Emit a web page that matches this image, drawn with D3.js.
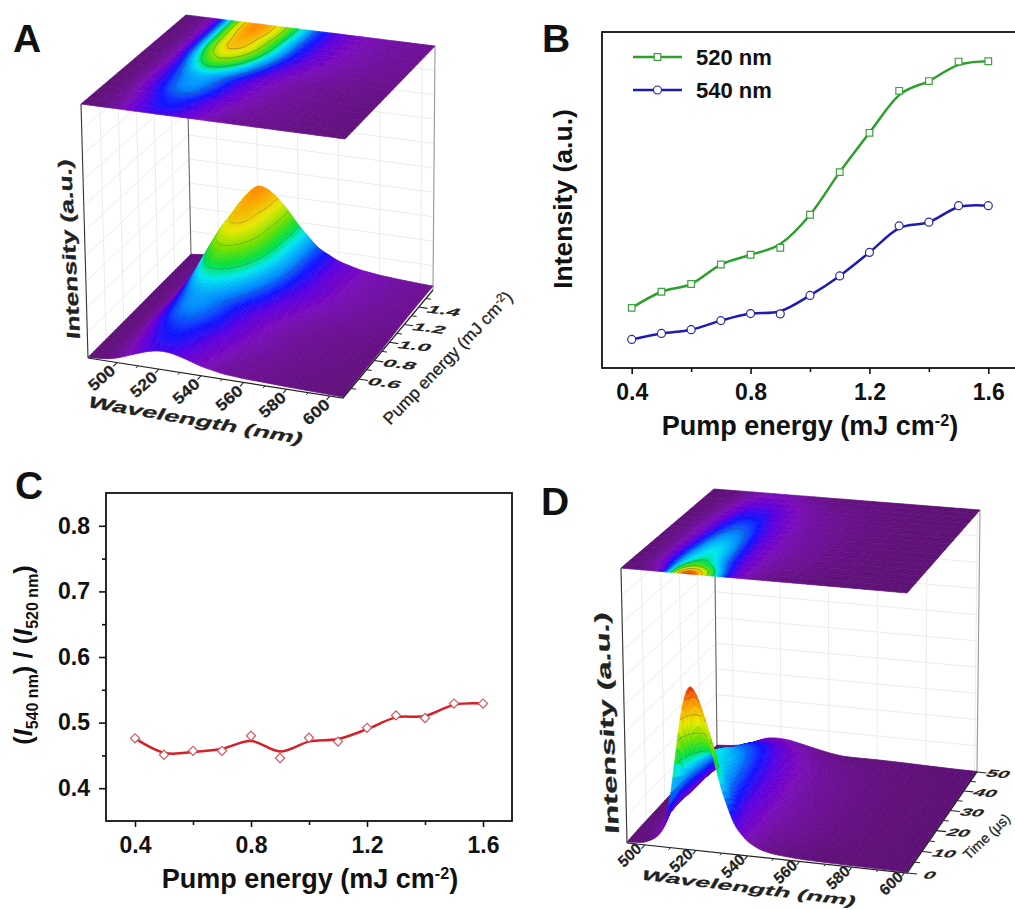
<!DOCTYPE html>
<html lang="en">

<head>
    <meta charset="UTF-8">
    <style type="text/css">
        body { margin: 0; background: #fff; }
        svg { display: block; font-family: "Liberation Sans", Arial, sans-serif; }
        .axis path { display: none; }
        .axis line { stroke: #111; stroke-width: 1.6; }
        .axis text { font-size: 23px; font-weight: bold; fill: #111; font-family: "Liberation Sans", Arial, sans-serif; }
        .frame { fill: none; stroke: #111; stroke-width: 1.8; }
        .title { font-weight: bold; fill: #111; }
        .wall { stroke: #ececec; stroke-width: 1; fill: none; }
    </style>
</head>

<body>
    <script src="https://cdn.jsdelivr.net/npm/d3@7"></script>
    <script type="text/javascript">

        // panel B, markers and the smoothed line through them
        var pump = [0.4, 0.5, 0.6, 0.7, 0.8, 0.9, 1.0, 1.1, 1.2, 1.3, 1.4, 1.5, 1.6];
        var int520 = [17.9, 22.7, 25.0, 30.8, 33.7, 35.8, 45.6, 58.3, 70.0, 82.5, 85.4, 91.2, 91.3];
        var int540 = [8.5, 10.3, 11.4, 14.1, 16.2, 16.1, 21.6, 27.4, 34.4, 42.3, 43.4, 48.3, 48.3];
        var smooth520 = [17.9, 22.7, 25.0, 30.8, 33.7, 36.9, 45.6, 58.3, 70.0, 81.2, 85.4, 90.2, 91.3];
        var smooth540 = [8.5, 10.3, 11.4, 14.1, 16.2, 16.9, 21.6, 27.4, 34.4, 41.6, 43.4, 47.9, 48.3];

        // panel C
        var ratioPoints = [0.476, 0.451, 0.457, 0.457, 0.480, 0.446, 0.477, 0.471, 0.492, 0.511, 0.507, 0.529, 0.529];
        var ratioSmooth = [0.476, 0.454, 0.455, 0.460, 0.472, 0.456, 0.471, 0.475, 0.490, 0.508, 0.510, 0.527, 0.529];

        // panel A surface, one row per pump energy, one column per wavelength
        var waveA = [486, 495, 500, 505, 510, 515, 520, 525, 530, 535, 540, 550, 560, 570, 580, 590, 600, 606];
        var surfaceA = [
            [.2, .8, 1.7, 3.2, 4.7, 6.1, 6.9, 6.9, 6, 4.8, 3.5, 2, 1.4, 1.2, .9, .7, .5, .4],
            [.2, .9, 2, 3.9, 6, 7.8, 8.8, 8.7, 7.6, 6.1, 4.6, 2.6, 1.8, 1.4, 1, .8, .6, .5],
            [.2, 1, 2.2, 4.4, 6.8, 8.7, 9.7, 9.6, 8.4, 6.9, 5.2, 3, 2, 1.5, 1.1, .9, .7, .6],
            [.2, 1, 2.6, 5.5, 8.3, 10.7, 11.9, 11.7, 10.3, 8.5, 6.5, 3.7, 2.4, 1.7, 1.3, 1, .8, .7],
            [.2, 1, 2.8, 6.1, 9.2, 11.7, 13, 12.7, 11.2, 9.3, 7.2, 4.1, 2.6, 1.9, 1.4, 1.1, .9, .7],
            [.2, 1.1, 3, 6.6, 10, 12.6, 13.9, 13.5, 12, 10, 7.8, 4.4, 2.8, 2, 1.5, 1.2, .9, .8],
            [.2, 1.1, 2.6, 6.8, 11.6, 16, 18, 17.6, 16, 13.5, 10.5, 5.8, 3.5, 2.4, 1.8, 1.4, 1.1, 1],
            [.3, 1.1, 2.8, 8.2, 14.7, 20.3, 23, 22.4, 20.3, 17.2, 13.3, 7.4, 4.4, 3, 2.2, 1.7, 1.4, 1.2],
            [.3, 1.1, 3, 9.5, 17.6, 24.4, 27.5, 26.9, 24.4, 20.6, 16, 8.8, 5.3, 3.4, 2.5, 2, 1.6, 1.4],
            [.3, 1.1, 3.3, 10.2, 19.5, 27, 30.5, 29.8, 27, 22.8, 17.7, 9.8, 5.9, 3.7, 2.8, 2.1, 1.8, 1.5],
            [.3, 1.1, 3.3, 10.5, 20, 27.6, 31.2, 30.4, 27.6, 23.3, 18, 10, 6, 3.8, 2.9, 2.2, 1.8, 1.6],
            [.3, 1.1, 3.5, 11, 21, 29, 32.8, 32, 29, 24.5, 19, 10.5, 6.3, 4, 3, 2.3, 1.9, 1.6],
            [.3, 1.1, 3.5, 11, 21, 29.2, 33.2, 32.2, 29, 24.5, 19, 10.4, 6.2, 4, 2.9, 2.3, 1.8, 1.6]
        ];

        // panel D surface, one row per delay time
        var waveD = [493, 500, 505, 508, 510, 513, 515, 518, 520, 523, 525, 530, 535, 540, 545, 550, 560, 570, 580, 590, 601];
        var timeD = [0, 2.5, 5, 7.5, 10, 15, 20, 25, 30, 35, 40, 45, 50];
        var surfaceD = [
            [.3, .8, 3, 7, 15, 37, 52, 63, 62, 53, 45, 24, 10.5, 5, 2.5, 1.5, .8, .6, .5, .4, .3],
            [.4, 1, 4, 9, 16, 33, 44, 52, 51, 45, 39, 22, 10, 5.5, 3, 2, 1, .7, .5, .4, .3],
            [.5, 1.5, 6, 12, 18, 28, 33, 36, 36, 32, 28, 18, 9.5, 6, 3.5, 2.5, 1.4, .9, .6, .4, .3],
            [.5, 2, 7, 13, 18, 25, 28, 31, 31, 28, 25, 16, 9.5, 6, 4, 3, 1.7, 1, .7, .4, .3],
            [.5, 2, 7, 13, 18, 24, 26, 28, 28, 26, 23, 15, 9, 6, 4.2, 3.2, 1.9, 1.1, .7, .4, .3],
            [.5, 2, 7, 12, 16, 21, 24, 26, 26, 24, 21, 14, 9, 6, 4.4, 3.4, 2, 1.2, .7, .4, .3],
            [.5, 2, 6, 10, 14, 19, 21, 23, 23, 21, 19, 13, 8.5, 6, 4.4, 3.4, 2, 1.2, .7, .4, .3],
            [.5, 2, 6, 9, 12, 16, 18, 19.5, 19.5, 18, 17, 12, 8, 5.5, 4.2, 3.2, 2, 1.2, .7, .4, .3],
            [.5, 2, 5, 8, 11, 14, 16, 17, 17, 16, 15, 10.5, 7.5, 5.2, 4, 3, 1.9, 1.1, .7, .4, .3],
            [.5, 1.5, 4.5, 7, 9, 12, 13.5, 14, 14, 13.5, 12.5, 9, 6.5, 4.8, 3.6, 2.8, 1.8, 1.1, .6, .4, .3],
            [.4, 1.2, 3.5, 5.5, 7.5, 9.5, 10.5, 11, 11, 10.5, 10, 7.5, 5.5, 4, 3, 2.4, 1.6, 1, .6, .4, .3],
            [.4, 1, 2.5, 4, 5.5, 7, 7.8, 8, 8, 7.5, 7, 5.5, 4, 3, 2.2, 1.8, 1.3, .9, .5, .3, .3],
            [.3, .8, 1.6, 2.6, 3.4, 4.4, 4.9, 5, 5, 4.8, 4.5, 3.5, 2.5, 1.5, .8, .7, .8, .7, .5, .3, .2]
        ];

        var wavelengthTicks = [500, 520, 540, 560, 580, 600];
        var wavelengthMinor = [510, 530, 550, 570, 590];
        var pumpTicks3d = [0.6, 0.8, 1.0, 1.2, 1.4];
        var pumpMinor3d = [0.5, 0.7, 0.9, 1.1, 1.3, 1.5];
        var timeTicks = [0, 10, 20, 30, 40, 50];
        var timeMinor = [5, 15, 25, 35, 45];
        var wallLevels = [.1, .2, .3, .4, .5, .6, .7, .8, .9];

        // colour map, as a fraction of the top of the z range
        var colorStops = [0, .04, .1, .17, .24, .33, .44, .52, .62, .74, .88, 1];
        var colorValues = ["#5a1070", "#6a0f90", "#7a08bc", "#5a00e0", "#1010ff", "#0088ff", "#00e8f0", "#00e040", "#70e000", "#e8e800", "#ff9000", "#e01000"];
        var contourFractions = [.3, .5, .65, .78, .9];

        var svg = d3.select("body").append("svg").attr("width", 1015).attr("height", 910);
        var defs = svg.append("defs");
        defs.append("filter").attr("id", "soft").attr("x", "-5%").attr("y", "-5%").attr("width", "110%").attr("height", "110%")
            .append("feGaussianBlur").attr("stdDeviation", 0.45);

        var rainbow = d3.scaleLinear().domain(colorStops).range(colorValues).clamp(true);

        // maps the unit square on to a quad: 00, 10, 11, 01
        function quadMap(q) {
            var x0 = q[0][0], y0 = q[0][1], x1 = q[1][0], y1 = q[1][1], x2 = q[2][0], y2 = q[2][1], x3 = q[3][0], y3 = q[3][1];
            var dx1 = x1 - x2, dx2 = x3 - x2, sx = x0 - x1 + x2 - x3;
            var dy1 = y1 - y2, dy2 = y3 - y2, sy = y0 - y1 + y2 - y3;
            var den = dx1 * dy2 - dx2 * dy1;
            var g = (sx * dy2 - dx2 * sy) / den, h = (dx1 * sy - sx * dy1) / den;
            var a = x1 - x0 + g * x1, b = x3 - x0 + h * x3, d = y1 - y0 + g * y1, e = y3 - y0 + h * y3;
            return function (u, v) {
                var w = g * u + h * v + 1;
                return [(a * u + b * v + x0) / w, (d * u + e * v + y0) / w];
            };
        }

        function skewText(g, text, x, y, m, size) {
            return g.append("text")
                .attr("transform", "matrix(" + m.join(",") + "," + x + "," + y + ")")
                .attr("text-anchor", "middle")
                .attr("dominant-baseline", "central")
                .attr("font-size", size)
                .attr("font-weight", "bold")
                .attr("fill", "#222")
                .attr("stroke", "#222")
                .attr("stroke-width", .2)
                .text(text);
        }

        function drawSurface(opt) {
            var g = svg.append("g");
            var floorMap = quadMap(opt.floor), topMap = quadMap(opt.top);
            var u = d3.scaleLinear().domain(opt.waveDomain).range([0, 1]);
            var v = d3.scaleLinear().domain(opt.rowDomain).range([0, 1]);
            var z = d3.scaleLinear().domain([0, opt.zTop]).range([0, 1]);
            var line = d3.line();

            function project(a, b, c) {
                var p = floorMap(a, b), t = topMap(a, b);
                return [p[0] + (t[0] - p[0]) * c, p[1] + (t[1] - p[1]) * c];
            }

            // walls
            var walls = g.append("g").attr("class", "wall");
            function wallLine(a0, b0, c0, a1, b1, c1) {
                walls.append("path").attr("d", line([project(a0, b0, c0), project(a1, b1, c1)]));
            }
            wallLevels.forEach(function (c) {
                wallLine(0, 0, c, 0, 1, c);
                wallLine(0, 1, c, 1, 1, c);
            });
            opt.rowTicks.forEach(function (r) { wallLine(0, v(r), 0, 0, v(r), 1); });
            wavelengthTicks.forEach(function (w) { wallLine(u(w), 1, 0, u(w), 1, 1); });

            [[0, 0, "#333"], [0, 1, "#666"], [1, 1, "#999"]].forEach(function (c) {
                g.append("path").attr("d", line([project(c[0], c[1], 0), project(c[0], c[1], 1)]))
                    .attr("stroke", c[2]).attr("stroke-width", 1.1).attr("fill", "none");
            });

            // resample the table on a fine grid for drawing
            var nx = 130, ny = 64;
            var rowFns = opt.table.map(function (row) { return d3.scaleLinear().domain(opt.wave).range(row); });
            var fine = new Float64Array(nx * ny);
            d3.range(nx).forEach(function (i) {
                var w = u.invert(i / (nx - 1));
                var col = rowFns.map(function (f) { return f(w); });
                var byRow = d3.scaleLinear().domain(opt.rows).range(col);
                d3.range(ny).forEach(function (j) {
                    fine[j * nx + i] = byRow(v.invert(j / (ny - 1)));
                });
            });
            if (d3.blur2) d3.blur2({ data: fine, width: nx, height: ny }, 1);

            var items = [], topCells = [], lidMesh = [];
            d3.range(ny - 1).forEach(function (j) {
                d3.range(nx - 1).forEach(function (i) {
                    var a0 = i / (nx - 1), a1 = (i + 1) / (nx - 1), b0 = j / (ny - 1), b1 = (j + 1) / (ny - 1);
                    var z00 = fine[j * nx + i], z10 = fine[j * nx + i + 1], z11 = fine[(j + 1) * nx + i + 1], z01 = fine[(j + 1) * nx + i];
                    var c = rainbow((z00 + z10 + z11 + z01) / 4 / opt.colorTop);
                    var order = (ny - 1 - j) * nx + i;
                    items.push({
                        order: order,
                        d: line([project(a0, b0, z(z00)), project(a1, b0, z(z10)), project(a1, b1, z(z11)), project(a0, b1, z(z01))]) + "Z",
                        fill: c, stroke: c, width: 0.7, opacity: 1
                    });
                    topCells.push({
                        d: line([project(a0, b0, 1), project(a1, b0, 1), project(a1, b1, 1), project(a0, b1, 1)]) + "Z",
                        fill: c
                    });
                    // faint mesh of the surface
                    if (i % 4 == 0) {
                        items.push({ order: order + .2, d: line([project(a0, b0, z(z00)), project(a0, b1, z(z01))]), fill: "none", stroke: "#fff", width: .5, opacity: .07 });
                        lidMesh.push(line([project(a0, b0, 1), project(a0, b1, 1)]));
                    }
                    if (j % 4 == 0) {
                        items.push({ order: order + .2, d: line([project(a0, b0, z(z00)), project(a1, b0, z(z10))]), fill: "none", stroke: "#fff", width: .5, opacity: .07 });
                        lidMesh.push(line([project(a0, b0, 1), project(a1, b0, 1)]));
                    }
                });
            });

            // contour lines
            var levels = contourFractions.map(function (f) { return f * opt.colorTop; });
            var inner = function (p) { return p[0] >= .5 && p[0] <= nx - .5 && p[1] >= .5 && p[1] <= ny - .5; };
            var topSegs = [];
            d3.contours().size([nx, ny]).thresholds(levels)(fine).forEach(function (shape) {
                var level = z(shape.value);
                shape.coordinates.forEach(function (poly) {
                    poly.forEach(function (ring) {
                        d3.pairs(ring).forEach(function (pair) {
                            if (!inner(pair[0]) || !inner(pair[1])) return;
                            var a = pair.map(function (p) { return [(p[0] - .5) / (nx - 1), (p[1] - .5) / (ny - 1)]; });
                            var i = Math.floor((pair[0][0] + pair[1][0]) / 2 - .5), j = Math.floor((pair[0][1] + pair[1][1]) / 2 - .5);
                            items.push({
                                order: (ny - 1 - j) * nx + i + .5,
                                d: line([project(a[0][0], a[0][1], level), project(a[1][0], a[1][1], level)]),
                                fill: "none", stroke: "#3a4a3a", width: 0.7, opacity: .6
                            });
                            topSegs.push(line([project(a[0][0], a[0][1], 1), project(a[1][0], a[1][1], 1)]));
                        });
                    });
                });
            });
            items.sort(function (p, q) { return p.order - q.order; });

            // surface
            g.append("g").attr("filter", "url(#soft)").selectAll("path").data(items).join("path")
                .attr("d", function (d) { return d.d; })
                .attr("fill", function (d) { return d.fill; })
                .attr("stroke", function (d) { return d.stroke; })
                .attr("stroke-opacity", function (d) { return d.opacity; })
                .attr("stroke-width", function (d) { return d.width; });

            // axis lines and ticks
            var axisG = g.append("g").attr("stroke", "#222").attr("fill", "none");
            axisG.append("path").attr("stroke-width", 1.2).attr("d", line([project(0, 0, 0), project(1, 0, 0), project(1, 1, 0)]));
            wavelengthTicks.forEach(function (w) { axisG.append("path").attr("stroke-width", 1.1).attr("d", line([project(u(w), 0, 0), project(u(w), -.035, 0)])); });
            wavelengthMinor.forEach(function (w) { axisG.append("path").attr("stroke-width", 1).attr("d", line([project(u(w), 0, 0), project(u(w), -.02, 0)])); });
            opt.rowTicks.forEach(function (r) { axisG.append("path").attr("stroke-width", 1.1).attr("d", line([project(1, v(r), 0), project(1.035, v(r), 0)])); });
            opt.rowMinor.forEach(function (r) { axisG.append("path").attr("stroke-width", 1).attr("d", line([project(1, v(r), 0), project(1.02, v(r), 0)])); });

            // map on the lid
            var lid = g.append("g").attr("filter", "url(#soft)");
            lid.selectAll("path").data(topCells).join("path")
                .attr("d", function (d) { return d.d; })
                .attr("fill", function (d) { return d.fill; })
                .attr("stroke", function (d) { return d.fill; })
                .attr("stroke-width", 0.7);
            lid.append("path").attr("d", lidMesh.join("")).attr("fill", "none").attr("stroke", "#fff").attr("stroke-opacity", .06).attr("stroke-width", .5);
            lid.append("path").attr("d", topSegs.join("")).attr("fill", "none").attr("stroke", "#3a4a3a").attr("stroke-opacity", .6).attr("stroke-width", 0.7);

            // tick labels
            wavelengthTicks.forEach(function (w) {
                var p = project(u(w) - opt.waveLabelShift, -opt.waveLabelOffset, 0);
                skewText(g, w, p[0], p[1], opt.waveLabelMatrix, 15);
            });
            opt.rowTicks.forEach(function (r) {
                var p = project(1 + opt.rowLabelOffset, v(r), 0);
                skewText(g, opt.rowFormat(r), p[0], p[1], opt.rowLabelMatrix, 14);
            });

            // titles
            skewText(g, "Wavelength (nm)", opt.waveTitle[0], opt.waveTitle[1], opt.waveTitle[2], 15);
            skewText(g, "Intensity (a.u.)", opt.zTitle[0], opt.zTitle[1], opt.zTitle[2], 15);
            var rt = g.append("text").attr("transform", opt.rowTitle.transform)
                .attr("text-anchor", "middle").attr("fill", "#222")
                .attr("stroke", "#222").attr("stroke-width", .3);
            opt.rowTitle.parts.forEach(function (t) {
                rt.append("tspan").attr("dy", t[1]).attr("font-size", t[2]).text(t[0]);
            });
        }

        drawSurface({
            floor: [[88, 358], [343, 398], [433, 290], [191, 255]],
            top: [[81, 104], [345, 139], [435, 46], [186, 15]],
            wave: waveA, waveDomain: [486, 606], table: surfaceA, rows: pump, rowDomain: [0.4, 1.6],
            rowTicks: pumpTicks3d, rowMinor: pumpMinor3d, rowFormat: d3.format(".1f"),
            zTop: 100, colorTop: 37,
            waveLabelOffset: .14, waveLabelShift: 0.0, waveLabelMatrix: [.9, -.8, .7, .8],
            rowLabelOffset: .1, rowLabelMatrix: [1.65, .2, -.55, .72],
            waveTitle: [196, 420, [1.78, .31, -.55, 1.0]],
            zTitle: [69, 249, [-.09, -1.77, 1.25, .1]],
            rowTitle: { transform: "translate(452,362) rotate(-46)", parts: [["Pump energy (mJ cm", 0, 17], ["-2", -6, 11.5], [")", 6, 17]] }
        });

        drawSurface({
            floor: [[627, 843], [907, 873], [977, 772], [717, 746]],
            top: [[621, 568], [907, 593], [980, 510], [714, 489]],
            wave: waveD, waveDomain: [493, 601], table: surfaceD, rows: timeD, rowDomain: [0, 50],
            rowTicks: timeTicks, rowMinor: timeMinor, rowFormat: d3.format("d"),
            zTop: 100, colorTop: 60,
            waveLabelOffset: .1, waveLabelShift: .02, waveLabelMatrix: [.75, -.74, .68, .78],
            rowLabelOffset: .08, rowLabelMatrix: [1.45, .1, -.55, .72],
            waveTitle: [749, 888, [1.78, .22, -.5, .88]],
            zTitle: [607, 723, [-.107, -2.18, 1.3, .1]],
            rowTitle: { transform: "translate(990,840) rotate(-44)", parts: [["Time (\u03bcs)", 0, 14]] }
        });

        // 2D panels
        function panel(box, yDomain) {
            var g = svg.append("g");
            var x = d3.scaleLinear().domain([0.3, 1.7]).range([box.left, box.right]);
            var y = d3.scaleLinear().domain(yDomain).range([box.bottom, box.top]);
            g.append("rect").attr("class", "frame")
                .attr("x", box.left).attr("y", box.top)
                .attr("width", box.right - box.left).attr("height", box.bottom - box.top);
            g.append("g").attr("class", "axis").attr("transform", "translate(0," + box.bottom + ")")
                .call(d3.axisBottom(x).tickValues([0.4, 0.8, 1.2, 1.6]).tickFormat(d3.format(".1f")).tickSize(6).tickPadding(10));
            g.append("g").attr("class", "axis").attr("transform", "translate(0," + box.bottom + ")")
                .call(d3.axisBottom(x).tickValues([0.6, 1.0, 1.4]).tickFormat("").tickSize(4));
            return { g: g, x: x, y: y };
        }

        function pumpTitle(g, cx, base, size) {
            var t = g.append("text").attr("class", "title").attr("x", cx).attr("y", base)
                .attr("text-anchor", "middle").attr("font-size", size);
            t.append("tspan").text("Pump energy (mJ cm");
            t.append("tspan").attr("dy", -9).attr("font-size", size * .6).text("-2");
            t.append("tspan").attr("dy", 9).text(")");
        }

        // B
        var b = panel({ left: 602, right: 1018, top: 32, bottom: 368 }, [0, 100]);
        var smooth = d3.line().curve(d3.curveCatmullRom.alpha(0));
        function seriesLine(pa, values, colour) {
            pa.g.append("path")
                .attr("d", smooth(pump.map(function (p, i) { return [pa.x(p), pa.y(values[i])]; })))
                .attr("fill", "none").attr("stroke", colour).attr("stroke-width", 2.5);
        }
        seriesLine(b, smooth520, "#2ca02c");
        seriesLine(b, smooth540, "#1c1cb4");
        var square = d3.symbol().type(d3.symbolSquare).size(44);
        var circle = d3.symbol().type(d3.symbolCircle).size(50);
        var diamond = d3.symbol().type(d3.symbolSquare).size(42);
        function markers(pa, values, sym, colour, turn) {
            pa.g.selectAll(null).data(values).join("path")
                .attr("d", sym)
                .attr("transform", function (d, i) { return "translate(" + pa.x(pump[i]) + "," + pa.y(d) + ") rotate(" + turn + ")"; })
                .attr("fill", "#fff").attr("stroke", colour).attr("stroke-width", 1.2);
        }
        markers(b, int520, square, "#3da43d", 0);
        markers(b, int540, circle, "#2a2aa8", 0);

        var legendRows = [["520 nm", "#2ca02c", square, "#3da43d", 57], ["540 nm", "#1c1cb4", circle, "#2a2aa8", 90]];
        legendRows.forEach(function (r) {
            b.g.append("line").attr("x1", 633).attr("x2", 682).attr("y1", r[4]).attr("y2", r[4])
                .attr("stroke", r[1]).attr("stroke-width", 2.5);
            b.g.append("path").attr("d", r[2]).attr("transform", "translate(657.5," + r[4] + ")")
                .attr("fill", "#fff").attr("stroke", r[3]).attr("stroke-width", 1.2);
            b.g.append("text").attr("class", "title").attr("x", 696).attr("y", r[4] + 7.5).attr("font-size", 22).text(r[0]);
        });
        b.g.append("text").attr("class", "title").attr("transform", "translate(572,199) rotate(-90)")
            .attr("text-anchor", "middle").attr("font-size", 26.5).text("Intensity (a.u.)");
        pumpTitle(b.g, 810, 435, 27);

        // C
        var c = panel({ left: 106, right: 512, top: 493, bottom: 821 }, [0.35, 0.85]);
        c.g.append("g").attr("class", "axis").attr("transform", "translate(106,0)")
            .call(d3.axisLeft(c.y).tickValues([.4, .5, .6, .7, .8]).tickFormat(d3.format(".1f")).tickSize(7).tickPadding(9));
        c.g.append("g").attr("class", "axis").attr("transform", "translate(106,0)")
            .call(d3.axisLeft(c.y).tickValues([.45, .55, .65, .75]).tickFormat("").tickSize(4));
        seriesLine(c, ratioSmooth, "#d42027");
        markers(c, ratioPoints, diamond, "#cf5a60", 45);
        pumpTitle(c.g, 310, 888, 27);

        var yTitle = c.g.append("text").attr("class", "title").attr("transform", "translate(32,655) rotate(-90)")
            .attr("text-anchor", "middle").attr("font-size", 25.5);
        [["(", 0, 25.5, "normal"], ["I", 0, 25.5, "italic"], ["540 nm", 6, 16, "normal"], [")", -6, 25.5, "normal"], [" / (", 0, 25.5, "normal"],
        ["I", 0, 25.5, "italic"], ["520 nm", 6, 16, "normal"], [")", -6, 25.5, "normal"]].forEach(function (t) {
            yTitle.append("tspan").attr("dy", t[1]).attr("font-size", t[2]).attr("font-style", t[3]).text(t[0]);
        });

        // panel letters
        [["A", 13, 52], ["B", 542, 52], ["C", 15, 499], ["D", 541, 515]].forEach(function (l) {
            svg.append("text").attr("class", "title").attr("x", l[1]).attr("y", l[2]).attr("font-size", 39).text(l[0]);
        });

    </script>
</body>

</html>
